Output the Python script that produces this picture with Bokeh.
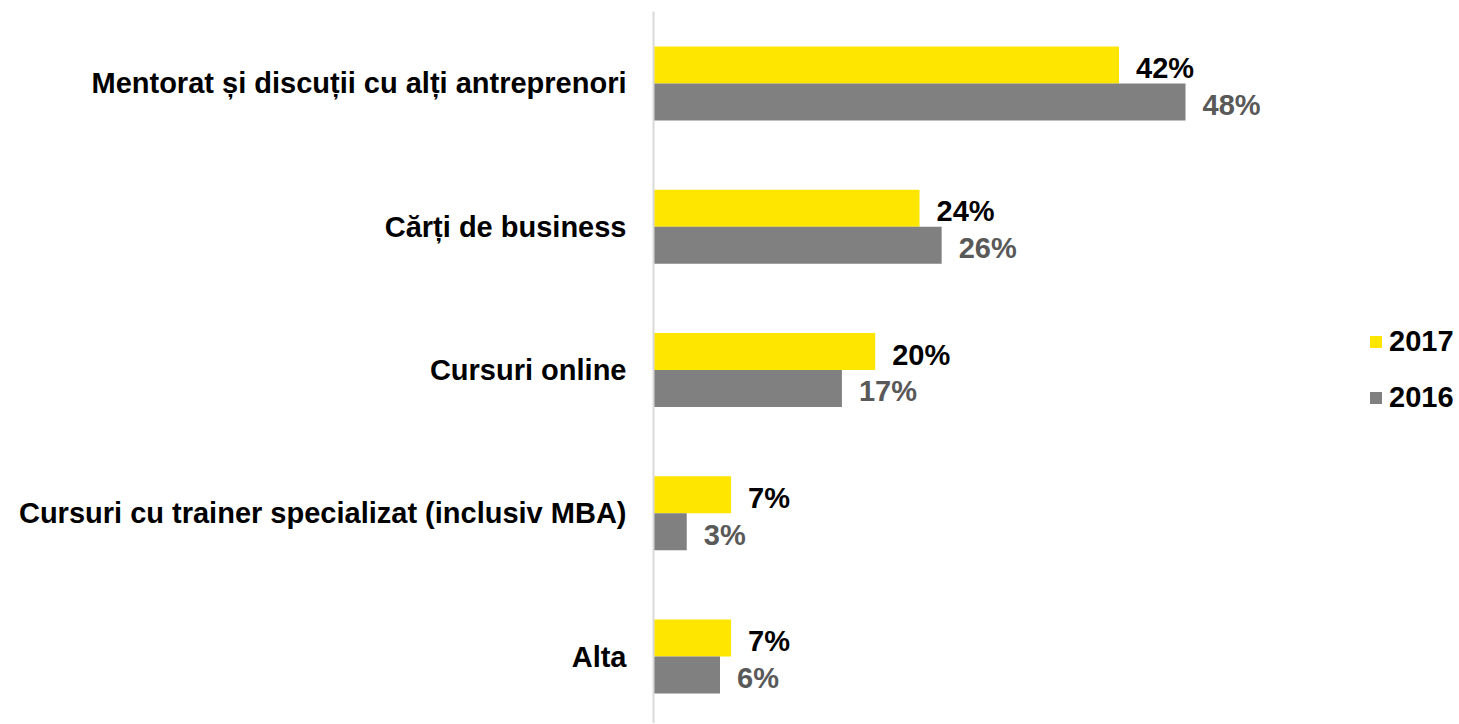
from bokeh.plotting import figure
from bokeh.models import ColumnDataSource, Range1d, FixedTicker, Legend, LegendItem
from bokeh.embed import file_html
from bokeh.resources import INLINE
from bokeh.core.properties import value

categories = [
    "Mentorat și discuții cu alți antreprenori",
    "Cărți de business",
    "Cursuri online",
    "Cursuri cu trainer specializat (inclusiv MBA)",
    "Alta",
]
values_2017 = [42, 24, 20, 7, 7]
values_2016 = [48, 26, 17, 3, 6]
series_names = ["2017", "2016"]

FONT = "Liberation Sans"
FS = "29px"
n = len(categories)
centers = [n - 1 - i for i in range(n)]
bh = 0.258

src17 = ColumnDataSource(dict(
    y=[c + bh / 2 for c in centers], v=values_2017,
    lbl=[f"{v}%" for v in values_2017]))
src16 = ColumnDataSource(dict(
    y=[c - bh / 2 for c in centers], v=values_2016,
    lbl=[f"{v}%" for v in values_2016]))

p = figure(width=1456, height=723, output_backend="svg", toolbar_location=None,
           x_range=Range1d(0, 72.45), y_range=Range1d(-0.4677, 4.5026),
           min_border_left=653, min_border_right=0, min_border_top=11,
           min_border_bottom=0, outline_line_color=None,
           background_fill_color="white", border_fill_color="white")

r17 = p.hbar(y="y", right="v", left=0, height=bh, source=src17,
             fill_color="#FFE600", line_color=None)
r16 = p.hbar(y="y", right="v", left=0, height=bh, source=src16,
             fill_color="#808080", line_color=None)

p.text(x="v", y="y", text="lbl", source=src17, x_offset=17, y_offset=3,
       text_font=value(FONT), text_font_style="bold", text_font_size=FS,
       text_color="black", text_baseline="middle", text_align="left")
p.text(x="v", y="y", text="lbl", source=src16, x_offset=17, y_offset=3,
       text_font=value(FONT), text_font_style="bold", text_font_size=FS,
       text_color="#595959", text_baseline="middle", text_align="left")

p.xaxis.visible = False
p.xgrid.visible = False
p.ygrid.visible = False

ya = p.yaxis[0]
ya.ticker = FixedTicker(ticks=centers)
ya.major_label_overrides = {c: categories[i] for i, c in enumerate(centers)}
ya.major_tick_line_color = None
ya.minor_tick_line_color = None
ya.axis_line_color = "#d9d9d9"
ya.axis_line_width = 2
ya.major_label_standoff = 21
ya.major_label_text_font = FONT
ya.major_label_text_font_style = "bold"
ya.major_label_text_font_size = FS
ya.major_label_text_color = "black"

legend = Legend(items=[LegendItem(label=series_names[0], renderers=[r17]),
                       LegendItem(label=series_names[1], renderers=[r16])],
                location=(715, 309), orientation="vertical")
legend.glyph_width = 15
legend.glyph_height = 15
legend.label_standoff = 6
legend.label_height = 15
legend.spacing = 23
legend.padding = 0
legend.margin = 0
legend.border_line_color = None
legend.background_fill_alpha = 0
legend.label_text_font = FONT
legend.label_text_font_style = "bold"
legend.label_text_font_size = FS
legend.label_text_color = "black"
p.add_layout(legend, "center")

open("out.html", "w").write(file_html(p, INLINE))
